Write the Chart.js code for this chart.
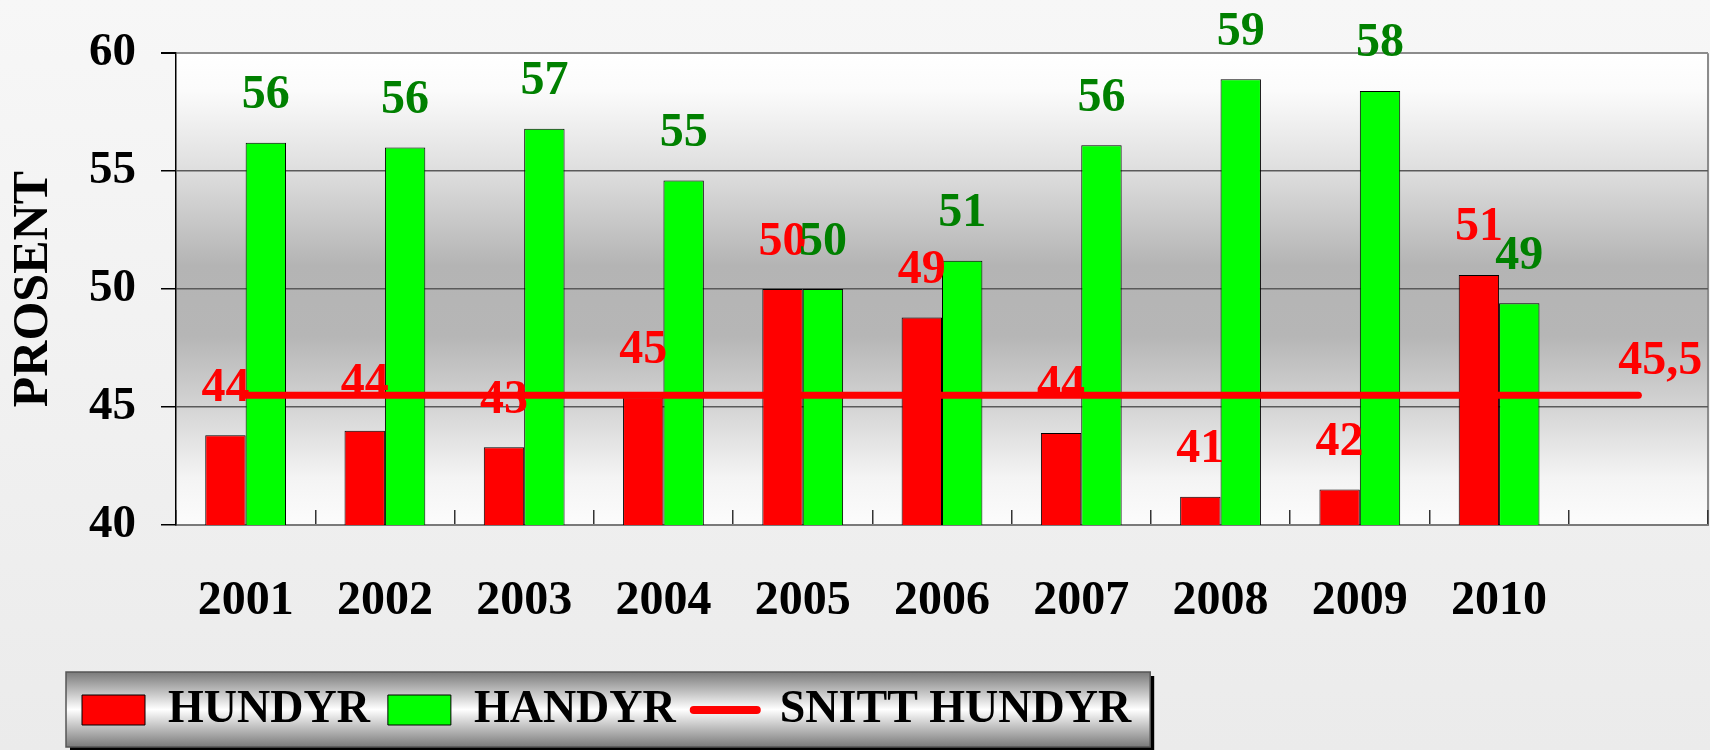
<!DOCTYPE html>
<html>
<head>
<meta charset="utf-8">
<script src="https://cdn.jsdelivr.net/npm/chart.js@4.4.1/dist/chart.umd.min.js"></script>
<style>
  html, body { margin: 0; padding: 0; }
  body { width: 1710px; height: 750px; overflow: hidden; background: linear-gradient(#f7f7f7, #ebebeb); }
  canvas { display: block; }
</style>
</head>
<body>
<canvas id="chart" width="1710" height="750"></canvas>
<script>
// data
const years = ['2001', '2002', '2003', '2004', '2005', '2006', '2007', '2008', '2009', '2010', ''];
const hundyr = [43.8, 44.0, 43.3, 45.4, 50.0, 48.8, 43.9, 41.2, 41.5, 50.6, null];
const handyr = [56.2, 56.0, 56.8, 54.6, 50.0, 51.2, 56.1, 58.9, 58.4, 49.4, null];
const snittHundyr = [45.5, 45.5, 45.5, 45.5, 45.5, 45.5, 45.5, 45.5, 45.5, 45.5, 45.5];
const yTicks = [40, 45, 50, 55, 60];

const serif = "'Liberation Serif', 'Times New Roman', serif";
const RED = '#ff0000';
const GREEN = '#00ff00';
const DARKGREEN = '#008000';

// grey gradient behind the plot + legend frame
const plotBackground = {
  id: 'plotBackground',
  beforeDraw(chart) {
    const { ctx, chartArea: a } = chart;
    ctx.save();
    const g = ctx.createLinearGradient(0, a.top, 0, a.bottom);
    g.addColorStop(0, '#ffffff');
    g.addColorStop(0.08, '#fbfbfb');
    g.addColorStop(0.25, '#dedede');
    g.addColorStop(0.45, '#b4b4b4');
    g.addColorStop(0.6, '#b6b6b6');
    g.addColorStop(0.75, '#d4d4d4');
    g.addColorStop(0.9, '#f4f4f4');
    g.addColorStop(1, '#fcfcfc');
    ctx.fillStyle = g;
    ctx.fillRect(a.left, a.top, a.right - a.left, a.bottom - a.top);
    ctx.strokeStyle = '#8c8c8c';
    ctx.lineWidth = 2;
    ctx.beginPath();
    ctx.moveTo(a.right, a.top);
    ctx.lineTo(a.right, a.bottom);
    ctx.stroke();

    // legend frame
    const hb = chart.legend.legendHitBoxes;
    if (hb && hb.length) {
      const last = hb[hb.length - 1];
      const x1 = hb[0].left - 16;
      const x2 = last.left + last.width + 19;
      const cy = hb[0].top + 23;
      const y1 = cy - 38, y2 = cy + 37;
      ctx.fillStyle = '#000';
      ctx.fillRect(x1 + 4, y1 + 4, x2 - x1, y2 - y1);
      const lg = ctx.createLinearGradient(0, y1, 0, y2);
      lg.addColorStop(0, '#7a7a7a');
      lg.addColorStop(0.5, '#ffffff');
      lg.addColorStop(1, '#7a7a7a');
      ctx.fillStyle = lg;
      ctx.fillRect(x1, y1, x2 - x1, y2 - y1);
      ctx.strokeStyle = '#555';
      ctx.lineWidth = 1.5;
      ctx.strokeRect(x1, y1, x2 - x1, y2 - y1);
    }
    ctx.restore();
  }
};

// move the legend so it starts near the left edge like the original
const legendShift = {
  id: 'legendShift',
  afterLayout(chart) {
    chart.legend.left = 64;
  }
};

// value labels above the bars and at the end of the average line
const valueLabels = {
  id: 'valueLabels',
  afterDatasetsDraw(chart) {
    const { ctx } = chart;
    ctx.save();
    ctx.font = 'bold 48px ' + serif;
    ctx.textAlign = 'center';
    ctx.textBaseline = 'middle';
    const colors = [RED, DARKGREEN];
    [0, 1].forEach(i => {
      const ds = chart.data.datasets[i];
      ctx.fillStyle = colors[i];
      chart.getDatasetMeta(i).data.forEach((bar, j) => {
        const v = ds.data[j];
        if (v == null) return;
        ctx.fillText(String(Math.round(v)), bar.x, bar.y - 47);
      });
    });
    const lineMeta = chart.getDatasetMeta(2);
    const n = lineMeta.data.length - 1;
    const pt = lineMeta.data[n];
    ctx.fillStyle = RED;
    ctx.fillText(snittHundyr[n].toFixed(1).replace('.', ','), pt.x + 22, pt.y - 34);
    ctx.restore();
  }
};

const ctx = document.getElementById('chart').getContext('2d');

const cfg = {
  type: 'bar',
  data: {
    labels: years,
    datasets: [
      {
        label: 'HUNDYR',
        data: hundyr,
        backgroundColor: RED,
        borderColor: '#000',
        borderWidth: 1,
        categoryPercentage: 0.58,
        barPercentage: 1.0,
        order: 1
      },
      {
        label: 'HANDYR',
        data: handyr,
        backgroundColor: GREEN,
        borderColor: '#000',
        borderWidth: 1,
        categoryPercentage: 0.58,
        barPercentage: 1.0,
        order: 1
      },
      {
        type: 'line',
        label: 'SNITT HUNDYR',
        data: snittHundyr,
        borderColor: RED,
        backgroundColor: RED,
        borderWidth: 7,
        borderCapStyle: 'round',
        pointRadius: 0,
        fill: false,
        tension: 0,
        order: 0
      }
    ]
  },
  options: {
    responsive: false,
    animation: false,
    devicePixelRatio: 1,
    layout: { padding: { top: 51, right: 2, bottom: 7, left: 0 } },
    plugins: {
      tooltip: { enabled: false },
      legend: {
        position: 'bottom',
        align: 'start',
        labels: {
          color: '#000',
          font: { family: serif, size: 46, weight: 'bold' },
          usePointStyle: true,
          pointStyleWidth: 63,
          boxHeight: 30,
          padding: 18,
          sort: (a, b) => a.datasetIndex - b.datasetIndex,
          generateLabels(chart) {
            const items = Chart.defaults.plugins.legend.labels.generateLabels(chart);
            items.forEach(item => {
              const ds = chart.data.datasets[item.datasetIndex];
              if (ds.type === 'line') {
                item.pointStyle = 'line';
                item.lineWidth = 8;
                item.strokeStyle = RED;
                item.lineCap = 'round';
              } else {
                item.pointStyle = 'rect';
                item.lineWidth = 1;
                item.strokeStyle = '#000';
                item.fillStyle = ds.backgroundColor;
              }
            });
            return items;
          }
        }
      }
    },
    scales: {
      x: {
        offset: true,
        grid: {
          display: true,
          offset: true,
          drawOnChartArea: false,
          drawTicks: true,
          tickLength: -15,
          tickColor: '#333',
          lineWidth: 1.5
        },
        border: { display: true, color: '#7a7a7a', width: 2 },
        ticks: {
          color: '#000',
          autoSkip: false,
          maxRotation: 0,
          padding: 63,
          font: { family: serif, size: 48, weight: 'bold' }
        },
        afterFit(scale) { scale.height = 144; }
      },
      y: {
        min: 40,
        max: 60,
        afterBuildTicks(scale) { scale.ticks = yTicks.map(v => ({ value: v })); },
        afterFit(scale) { scale.width = 176; },
        grid: {
          color: c => (c.tick && c.tick.value === 60 ? '#8c8c8c' : '#5a5a5a'),
          lineWidth: c => (c.tick && c.tick.value === 60 ? 2 : 1.5),
          tickLength: 15,
          tickColor: '#000'
        },
        border: { display: true, color: '#000', width: 1.5 },
        ticks: {
          color: '#000',
          padding: 25,
          font: { family: serif, size: 47, weight: 'bold' }
        },
        title: {
          display: true,
          text: 'PROSENT',
          color: '#000',
          padding: { top: 4, bottom: 0 },
          font: { family: serif, size: 50, weight: 'bold' }
        }
      }
    }
  },
  plugins: [plotBackground, legendShift, valueLabels]
};

const chart = new Chart(ctx, cfg);
</script>
</body>
</html>
